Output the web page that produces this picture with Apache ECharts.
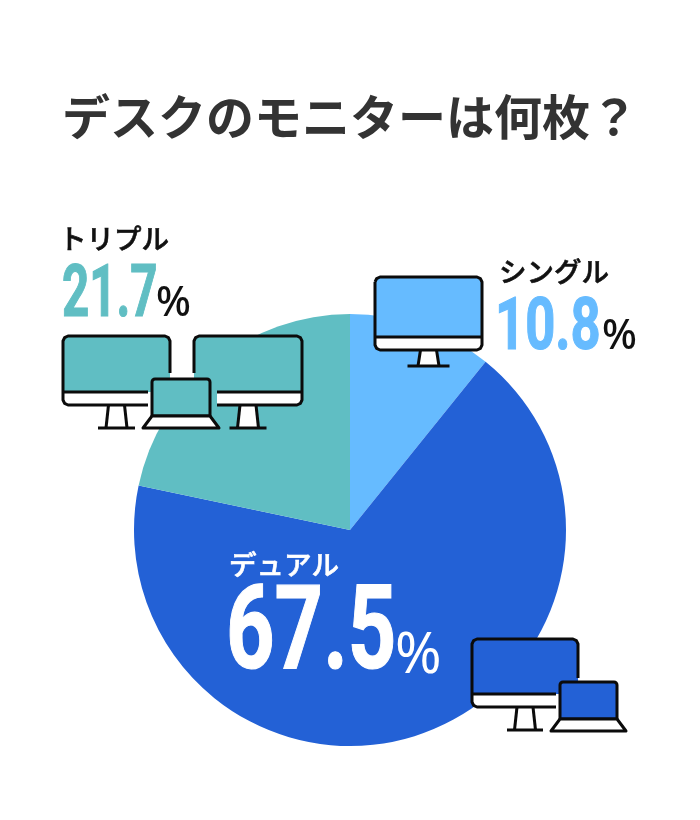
<!DOCTYPE html>
<html>
<head>
<meta charset="utf-8">
<style>html,body{margin:0;padding:0;background:#fff}#chart{width:700px;height:820px}</style>
<script src="https://cdn.jsdelivr.net/npm/echarts@6/dist/echarts.min.js"></script>
</head>
<body>
<div id="chart"></div>
<script>
// Share of respondents by number of desk monitors
const chartTitle = 'デスクのモニターは何枚？';
const categories = ['シングル', 'デュアル', 'トリプル'];
const shares = [10.8, 67.5, 21.7];
const colors = ['#66BBFF', '#2361D6', '#60BEC3'];

const JP = '"Noto Sans CJK JP", "Noto Sans", sans-serif';
const INK = '#0b0b0b';
const LW = 3;

function strokeLine(points) {
  return { type: 'polyline', z: 20, shape: { points },
    style: { fill: null, stroke: INK, lineWidth: LW, lineJoin: 'round', lineCap: 'butt' } };
}
function filled(points, fill) {
  return { type: 'polygon', z: 18, shape: { points }, style: { fill, stroke: null } };
}

// Desktop monitor; open = 'right' or 'left' leaves room for a laptop in front of it
function monitor(x, y, w, h, bezel, fill, standH, baseW, open, gapY, gapX) {
  const r = 5, c = 1.6, R = x + w, B = y + h, D = B - bezel, mid = x + w / 2;
  const els = [];
  els.push(filled([[x + r, y], [R - r, y], [R - c, y + c], [R, y + r], [R, D], [x, D], [x, y + r], [x + c, y + c]], fill));
  els.push(filled(open === 'right'
    ? [[x, D], [gapX, D], [gapX, B], [x + r, B], [x, B - r]]
    : open === 'left'
      ? [[gapX, D], [R, D], [R, B - r], [R - r, B], [gapX, B]]
      : [[x, D], [R, D], [R, B - r], [R - r, B], [x + r, B], [x, B - r]], '#fff'));
  // Stand
  els.push(filled([[mid - 8, B], [mid + 8, B], [mid + 10.5, B + standH], [mid - 10.5, B + standH]], '#fff'));
  els.push(strokeLine([[mid - 8, B], [mid - 10.5, B + standH]]));
  els.push(strokeLine([[mid + 8, B], [mid + 10.5, B + standH]]));
  els.push(strokeLine([[mid - baseW / 2, B + standH], [mid + baseW / 2, B + standH]]));
  // Outline
  const tl = [[x, y + r], [x + c, y + c], [x + r, y]];
  const tr = [[R - r, y], [R - c, y + c], [R, y + r]];
  const br = [[R, B - r], [R - c, B - c], [R - r, B]];
  const bl = [[x + r, B], [x + c, B - c], [x, B - r]];
  if (open === 'right') {
    els.push(strokeLine([[R, gapY], ...tr.slice().reverse(), ...tl.slice().reverse(), ...bl.slice().reverse(), [gapX, B]]));
    els.push(strokeLine([[x, D], [gapX, D]]));
  } else if (open === 'left') {
    els.push(strokeLine([[x, gapY], ...tl, ...tr, ...br, [gapX, B]]));
    els.push(strokeLine([[gapX, D], [R, D]]));
  } else {
    els.push(strokeLine([...tl, ...tr, ...br, ...bl, tl[0]]));
    els.push(strokeLine([[x, D], [R, D]]));
  }
  return els;
}

// Laptop with a filled screen and a flared keyboard deck
function laptop(x, y, w, h, fill) {
  const R = x + w, B = y + h, r = 3;
  return [
    { type: 'rect', z: 21, shape: { x, y, width: w, height: h, r: [r, r, 0, 0] },
      style: { fill, stroke: INK, lineWidth: LW } },
    { type: 'polygon', z: 21, shape: { points: [[x, B], [R, B], [R + 9, B + 12], [x - 9, B + 12]] },
      style: { fill: '#fff', stroke: INK, lineWidth: LW, lineJoin: 'round' } }
  ];
}

// Big condensed figure plus a separate percent sign
function figure(value, x, baseline, size, color, squeeze, heavy) {
  return { type: 'text', z: 25, x, y: baseline, scaleX: squeeze, scaleY: 1,
    style: { text: value.toFixed(1), fill: color, stroke: color, lineWidth: heavy,
      font: `700 ${size}px Roboto, sans-serif`, textAlign: 'left', textVerticalAlign: 'bottom' } };
}
function percent(x, baseline, size, color, weight) {
  return { type: 'text', z: 25, x, y: baseline,
    style: { text: '%', fill: color, font: `${weight} ${size}px "Noto Sans", sans-serif`,
      textAlign: 'left', textVerticalAlign: 'bottom' } };
}
function heading(text, x, y, color) {
  return { type: 'text', z: 25, x, y,
    style: { text, fill: color, stroke: color, lineWidth: 0.6,
      font: `500 27.5px ${JP}`, textAlign: 'left', textVerticalAlign: 'middle' } };
}

const graphics = [
  heading(categories[2], 59, 239, '#111'),
  heading(categories[0], 499, 272, '#111'),
  heading(categories[1], 229, 565, '#fff'),
  figure(shares[2], 62, 334, 72, colors[2], 0.66, 1.2),
  figure(shares[0], 495, 367, 72, colors[0], 0.73, 1.2),
  figure(shares[1], 226, 697, 116, '#fff', 0.73, 1.2),
  percent(156, 325, 41, '#111', 500),
  percent(602, 358, 41, '#111', 500),
  percent(395, 685, 56, '#fff', 400),
  ...monitor(375, 277, 107, 73, 13, colors[0], 16, 42),
  ...monitor(63, 336, 107, 69, 13, colors[2], 23, 37, 'right', 373, 148),
  ...monitor(194, 336, 108, 69, 13, colors[2], 23, 37, 'left', 373, 217),
  ...laptop(152, 379, 58, 37, colors[2]),
  ...monitor(472, 639, 106, 68, 13, colors[1], 23, 36, 'right', 678, 556),
  ...laptop(560, 682, 57, 37, colors[1])
];

const chart = echarts.init(document.getElementById('chart'), null, { renderer: 'canvas' });
chart.setOption({
  animation: false,
  backgroundColor: '#fff',
  title: {
    text: chartTitle,
    left: 'center',
    top: 88,
    textStyle: { fontFamily: JP, fontSize: 48, fontWeight: 700, color: '#333' }
  },
  series: [{
    type: 'pie',
    center: [350, 530],
    radius: [0, 216],
    startAngle: 90,
    clockwise: true,
    silent: true,
    label: { show: false },
    labelLine: { show: false },
    itemStyle: { borderWidth: 0 },
    data: categories.map((name, i) => ({ name, value: shares[i], itemStyle: { color: colors[i] } }))
  }],
  graphic: { elements: graphics }
});
</script>
</body>
</html>
